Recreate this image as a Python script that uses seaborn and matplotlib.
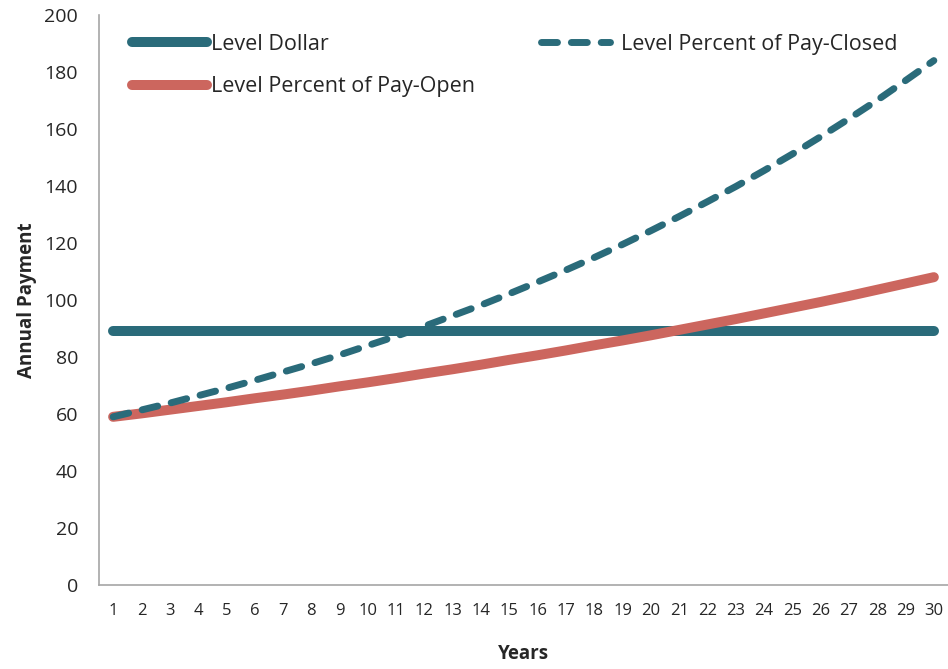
import matplotlib
matplotlib.use("Agg")
import matplotlib.pyplot as plt
import seaborn as sns
import pandas as pd
from matplotlib.ticker import MultipleLocator, FixedLocator

years = list(range(1, 31))
level_dollar = [89.0] * 30
pay_closed = [59.0, 61.4, 63.8, 66.4, 69.0, 71.8, 74.7, 77.6, 80.7, 84.0,
              87.3, 90.8, 94.5, 98.2, 102.2, 106.3, 110.5, 114.9, 119.5, 124.3,
              129.3, 134.5, 139.8, 145.4, 151.2, 157.3, 163.6, 170.1, 177.0, 184.0]
pay_open = [59.0, 60.2, 61.5, 62.8, 64.1, 65.5, 66.8, 68.2, 69.7, 71.1,
            72.6, 74.2, 75.7, 77.3, 79.0, 80.6, 82.3, 84.1, 85.8, 87.6,
            89.5, 91.4, 93.3, 95.3, 97.3, 99.3, 101.4, 103.6, 105.8, 108.0]

teal = "#2a6b7a"
red = "#cc665e"

df = pd.DataFrame({"Years": years, "Level Dollar": level_dollar,
                   "Level Percent of Pay-Closed": pay_closed,
                   "Level Percent of Pay-Open": pay_open})

sns.set_style("white")
plt.rcParams["font.family"] = ["Open Sans", "DejaVu Sans"]

fig = plt.figure(figsize=(9.48, 6.69), dpi=100)
ax = fig.add_axes([0.1044, 0.1256, 0.8956, 0.852])

sns.lineplot(data=df, x="Years", y="Level Dollar", ax=ax, color=teal,
             linewidth=7.2, solid_capstyle="round", label="Level Dollar")
sns.lineplot(data=df, x="Years", y="Level Percent of Pay-Open", ax=ax, color=red,
             linewidth=7.2, solid_capstyle="round", label="Level Percent of Pay-Open")
sns.lineplot(data=df, x="Years", y="Level Percent of Pay-Closed", ax=ax, color=teal,
             linewidth=5.0, dashes=(2.3, 2.0), dash_capstyle="round",
             label="Level Percent of Pay-Closed")

ax.set_xlim(0.5, 30.5)
ax.set_ylim(0, 200)
ax.yaxis.set_major_locator(MultipleLocator(20))
ax.xaxis.set_major_locator(FixedLocator(years))
ax.xaxis.set_minor_locator(FixedLocator([y + 0.5 for y in range(0, 31)]))
ax.set_xticklabels([str(y) for y in years])
ax.tick_params(axis="x", which="major", length=0, pad=13, labelsize=12)
ax.tick_params(axis="x", which="minor", length=5, width=1.2, color="#a6a6a6", direction="out")
ax.tick_params(axis="y", length=5, width=1.2, color="#a6a6a6", direction="out", labelsize=14, pad=10)

for s in ["top", "right"]:
    ax.spines[s].set_visible(False)
for s in ["left", "bottom"]:
    ax.spines[s].set_color("#a6a6a6")
    ax.spines[s].set_linewidth(1.2)

ax.set_xlabel("Years", fontsize=13.5, fontweight="bold", labelpad=18)
ax.set_ylabel("Annual Payment", fontsize=13.5, fontweight="bold", labelpad=5)

handles, labels = ax.get_legend_handles_labels()
leg1 = ax.legend(handles[:2], labels[:2], loc="upper left", bbox_to_anchor=(0.039, 0.967),
                 frameon=False, fontsize=15.5, handlelength=3.5, handletextpad=0.15,
                 labelspacing=1.0, borderaxespad=0, borderpad=0)
ax.add_artist(leg1)
ax.legend(handles[2:], labels[2:], loc="upper left", bbox_to_anchor=(0.521, 0.967),
          frameon=False, fontsize=15.5, handlelength=3.2, handletextpad=0.5,
          borderaxespad=0, borderpad=0)

fig.savefig("out.png", dpi=100)
